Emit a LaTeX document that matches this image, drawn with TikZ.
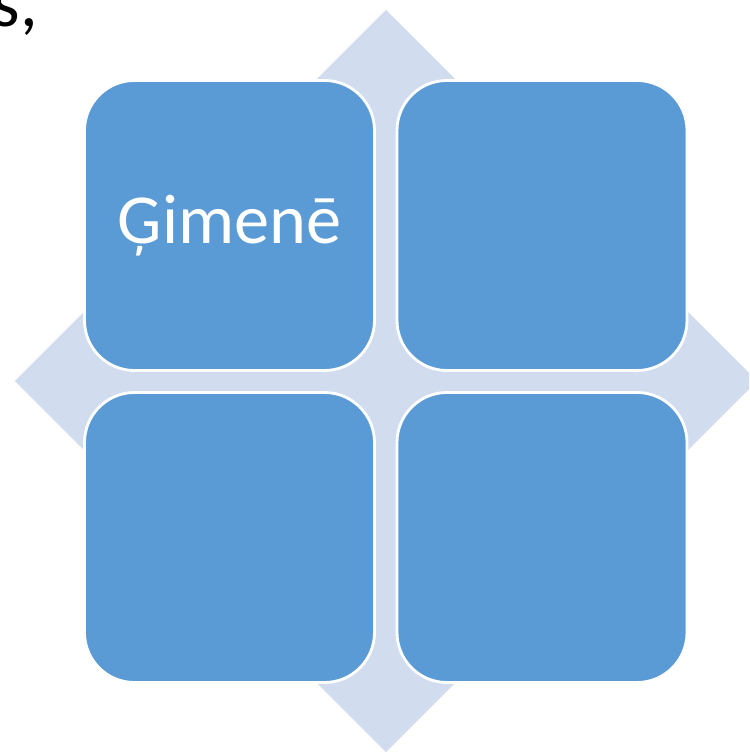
\documentclass[tikz,border=0pt]{standalone}
\usepackage{fontspec}
\setmainfont{Carlito}
\definecolor{boxblue}{RGB}{91,155,213}
\definecolor{diamondblue}{RGB}{209,220,238}
\tikzset{
  quad/.style={draw=white,line width=1.6pt,fill=boxblue,rounded corners=1cm,
    minimum size=5.8cm,inner sep=0pt,text=white,font=\fontsize{40}{48}\selectfont},
}
\begin{document}
\begin{tikzpicture}
\useasboundingbox (-7.72,-7.46) rectangle (7.26,7.62);
\clip (-7.72,-7.46) rectangle (7.26,7.62);
\fill[diamondblue](0,7.42)--(7.42,0)--(0,-7.42)--(-7.42,0)--cycle;
\node[quad] (family) at (-3.13,3.11) {Ģimenē};
\node[quad] (tr) at (3.12,3.11) {};
\node[quad] (bl) at (-3.13,-3.13) {};
\node[quad] (br) at (3.12,-3.13) {};
\node[anchor=base east,inner sep=0pt,font=\fontsize{40}{48}\selectfont] (title) at (-6.96,7.08) {s,};
\end{tikzpicture}
\end{document}
